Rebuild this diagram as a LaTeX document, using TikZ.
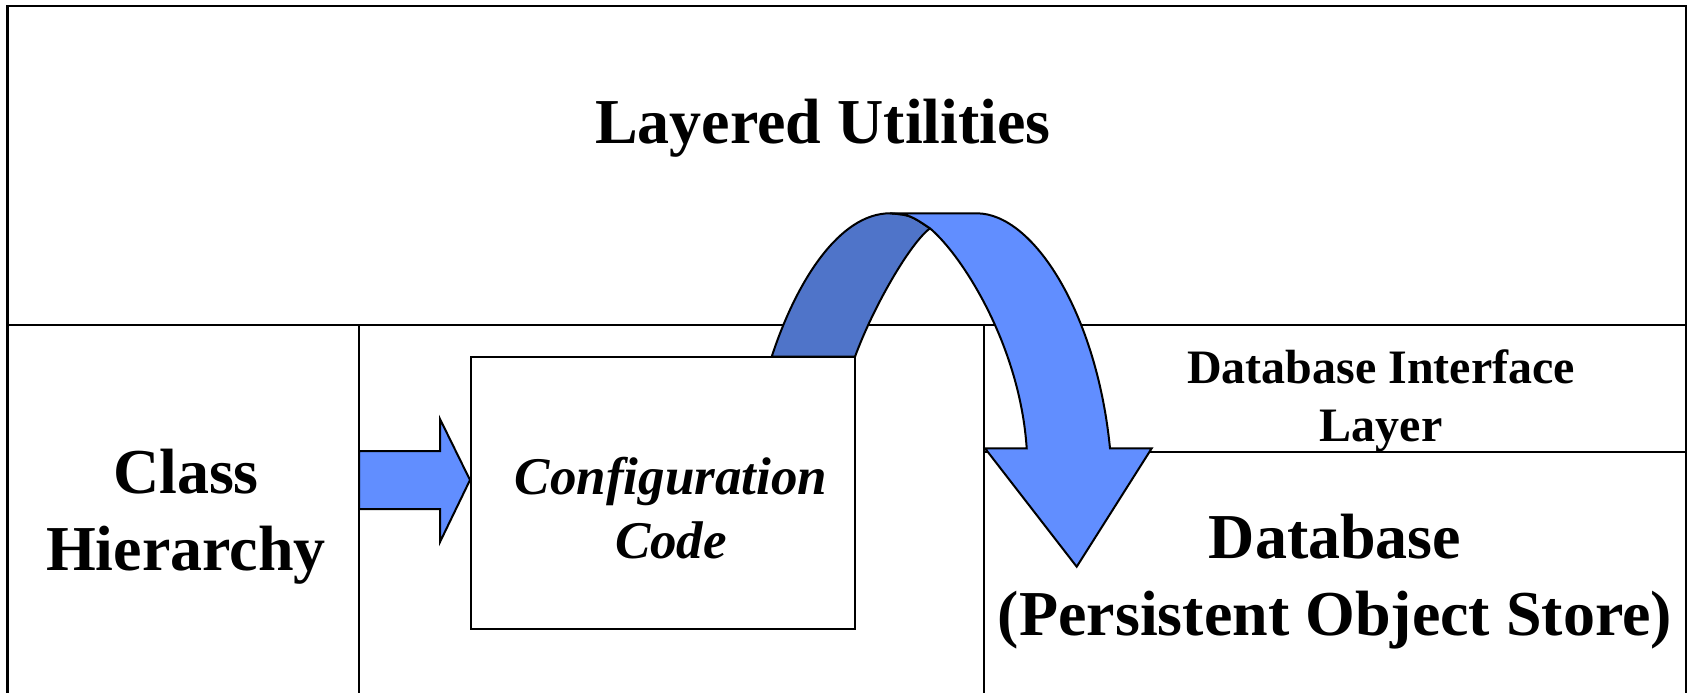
\documentclass[tikz,border=0pt]{standalone}
\usepackage{fontspec}
\setmainfont{Liberation Serif}
\definecolor{arrlight}{RGB}{97,142,255}
\definecolor{arrdark}{RGB}{79,116,201}
\tikzset{
  frame/.style={draw=black, line width=1.2pt, fill=white},
  arrowshape/.style={draw=black, line width=1pt, line join=miter},
  bigtext/.style={font=\bfseries\fontsize{32}{38.5}\selectfont, align=center, inner sep=0pt},
  midtext/.style={font=\bfseries\itshape\fontsize{26.5}{32}\selectfont, align=center, inner sep=0pt},
  smalltext/.style={font=\bfseries\fontsize{24}{29}\selectfont, align=center, inner sep=0pt}
}
\begin{document}
\begin{tikzpicture}[x=0.5pt, y=-0.5pt]
\clip (0,0) rectangle (1692,692);
\fill[white] (0,0) rectangle (1692,692);
% layer boxes
\draw[frame] (7.5,6) rectangle (1686,325);
\draw[frame] (7.5,325) rectangle (359,720);
\draw[frame] (359,325) rectangle (984,720);
\draw[frame] (984,325) rectangle (1686,452);
\draw[frame] (984,452) rectangle (1686,720);
% straight block arrow
\draw[arrowshape, fill=arrlight] (359,451) -- (440,451) -- (440,419) -- (470,480)
  -- (440,542) -- (440,509) -- (359,509) -- cycle;
% curved block arrow: back (dark) part
\draw[arrowshape, fill=arrdark] (771.7,356.7) .. controls (796.7,280) and (840,213.3) .. (890,213.3)
  .. controls (910,215) .. (930,228.3)
  .. controls (910,243.3) and (873.3,306.7) .. (855,356.7) -- cycle;
% curved block arrow: front (light) part
\draw[arrowshape, fill=arrlight] (890,213.3) -- (976.7,213.3)
  .. controls (1033.3,213.3) and (1096.7,313.3) .. (1110,448.3)
  -- (1151.7,448.3) -- (1076.7,566.7) -- (985,448.3) -- (1026.7,448.3)
  .. controls (1020,346.7) and (963.3,256.7) .. (930,228.3)
  .. controls (910,215) .. (890,213.3) -- cycle;
% configuration box
\draw[frame] (471,357) rectangle (855,629);
% texts
\node[bigtext] (lu) at (823,128) {Layered Utilities};
\node[bigtext] (ch) at (186,517) {Class\\Hierarchy};
\node[midtext] (cc) at (671,508) {Configuration\\Code};
\node[smalltext] (dil) at (1381,401) {Database Interface\\Layer};
\node[bigtext] (db) at (1335,582) {Database\\(Persistent Object Store)};
\end{tikzpicture}
\end{document}
